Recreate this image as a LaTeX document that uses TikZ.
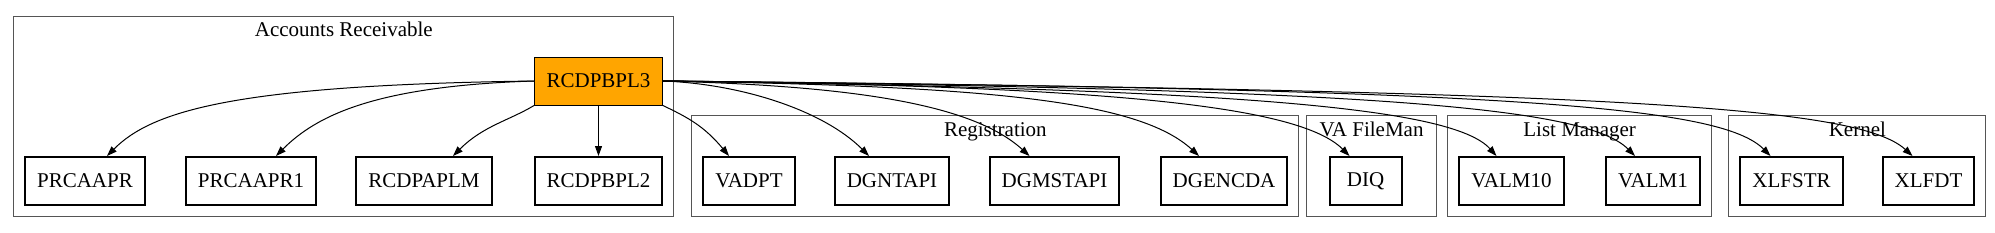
\documentclass[tikz,border=0pt]{standalone}
\usepackage{fontspec}
\setmainfont{Liberation Serif}
\usetikzlibrary{arrows.meta,positioning,fit,backgrounds,calc}
\definecolor{hubfill}{RGB}{255,165,0}
\definecolor{rim}{RGB}{85,85,85}
\tikzset{
  mod/.style={draw=black, line width=1pt, fill=white, minimum width=36pt,
              minimum height=24pt, inner xsep=6pt, font=\fontsize{10.5}{12}\selectfont},
  hub/.style={mod, line width=0.5pt, fill=hubfill},
  pkg/.style={draw=rim, line width=0.5pt, inner sep=5.25pt},
  pkgname/.style={anchor=base, inner sep=0pt, font=\fontsize{10.5}{12}\selectfont},
  call/.style={-{Triangle[length=5pt,width=3.5pt]}, line width=0.5pt, black},
}

\begin{document}
\begin{tikzpicture}[x=0.5pt, y=-0.5pt]
  \useasboundingbox (0,0) rectangle (1995,232);

  % Accounts Receivable
  \node[hub] (rc)       at (598.5,81) {RCDPBPL3};
  \node[mod] (prcaapr)  at (85,181)    {PRCAAPR};
  \node[mod] (prcaapr1) at (251,181)   {PRCAAPR1};
  \node[mod] (rcdpaplm) at (424,181)   {RCDPAPLM};
  \node[mod] (rcdpbpl2) at (598.5,181) {RCDPBPL2};
  % Registration
  \node[mod] (vadpt)    at (749,181)    {VADPT};
  \node[mod] (dgntapi)  at (892,181)    {DGNTAPI};
  \node[mod] (dgmstapi) at (1054.5,181) {DGMSTAPI};
  \node[mod] (dgencda)  at (1224,181)   {DGENCDA};
  % VA FileMan
  \node[mod] (diq)      at (1365.5,181) {DIQ};
  % List Manager
  \node[mod] (valm10)   at (1511.5,181) {VALM10};
  \node[mod] (valm1)    at (1653,181)   {VALM1};
  % Kernel
  \node[mod] (xlfstr)   at (1791.5,181) {XLFSTR};
  \node[mod] (xlfdt)    at (1928.5,181) {XLFDT};

  \begin{scope}[on background layer]
    \node[pkg, fit={(prcaapr) (rcdpbpl2) ($(rc.north)+(0,-30)$)}] (ar) {};
    \node[pkg, fit={(vadpt) (dgencda) ($(vadpt.north)+(0,-30)$)}] (reg) {};
    \node[pkg, fit={(diq) ($(diq.north)+(-48.5,-30)$) ($(diq.north)+(60.5,-30)$)}] (fm) {};
    \node[pkg, fit={(valm10) (valm1) ($(valm10.north)+(0,-30)$)}] (lm) {};
    \node[pkg, fit={(xlfstr) (xlfdt) ($(xlfstr.north)+(0,-30)$)}] (kern) {};
  \end{scope}
  \node[pkgname] (arname)   at ($(ar.north)+(0,21)$)   {Accounts Receivable};
  \node[pkgname] (regname)  at ($(reg.north)+(0,21)$)  {Registration};
  \node[pkgname] (fmname)   at ($(fm.north)+(0,21)$)   {VA FileMan};
  \node[pkgname] (lmname)   at ($(lm.north)+(0,21)$)   {List Manager};
  \node[pkgname] (kernname) at ($(kern.north)+(0,21)$) {Kernel};

  % calls out of RCDPBPL3
  \draw[call] (rc.west) .. controls +(-300,4) and +(45,-45) .. ($(prcaapr.north)+(22,0)$);
  \draw[call] (rc.west) .. controls +(-160,5) and +(40,-40) .. ($(prcaapr1.north)+(25,0)$);
  \draw[call] (rc.south west) .. controls +(-25,15) and +(30,-30) .. ($(rcdpaplm.north)+(29,0)$);
  \draw[call] (rc.south) -- (rcdpbpl2.north);
  \draw[call] (rc.south east) .. controls +(25,12) and +(-25,-30) .. ($(vadpt.north)+(-20,0)$);
  \draw[call] (rc.east) .. controls +(80,3) and +(-45,-45) .. ($(dgntapi.north)+(-23,0)$);
  \draw[call] (rc.east) .. controls +(200,5) and +(-55,-50) .. ($(dgmstapi.north)+(-25,0)$);
  \draw[call] (rc.east) .. controls +(330,5) and +(-60,-55) .. ($(dgencda.north)+(-25,0)$);
  \draw[call] (rc.east) .. controls +(450,5) and +(-50,-50) .. ($(diq.north)+(-16,0)$);
  \draw[call] (rc.east) .. controls +(560,8) and +(-45,-50) .. ($(valm10.north)+(-15,0)$);
  \draw[call] (rc.east) .. controls +(700,8) and +(-50,-50) .. ($(valm1.north)+(-18,0)$);
  \draw[call] (rc.east) .. controls +(850,8) and +(-50,-50) .. ($(xlfstr.north)+(-21,0)$);
  \draw[call] (rc.east) .. controls +(950,10) and +(-55,-50) .. ($(xlfdt.north)+(-16,0)$);
\end{tikzpicture}
\end{document}
